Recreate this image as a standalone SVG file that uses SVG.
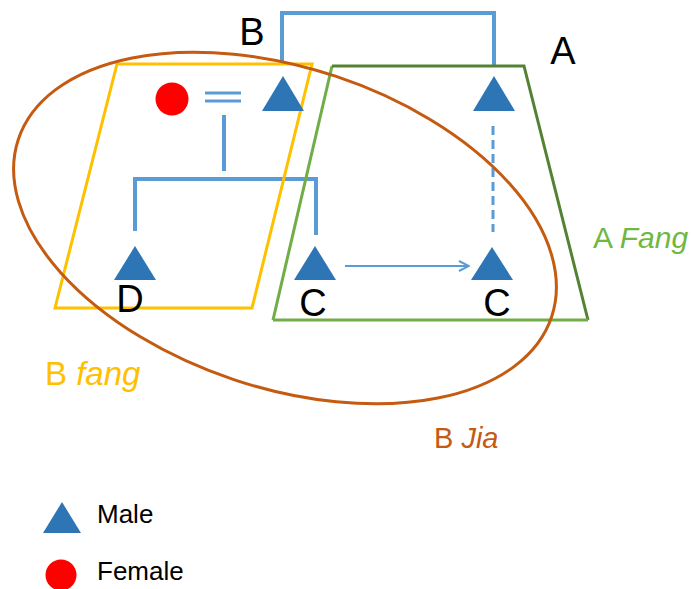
<svg xmlns="http://www.w3.org/2000/svg" width="691" height="589" viewBox="0 0 691 589">
<style>
.conn{fill:none;stroke:#5B9BD5;stroke-width:4}
.tri{fill:#2E75B6}
.lbl{font-family:"Liberation Sans",Arial,sans-serif;font-size:38px;fill:#000;text-anchor:middle}
.cap{font-family:"Liberation Sans",Arial,sans-serif}
.leg{font-family:"Liberation Sans",Arial,sans-serif;font-size:26px;fill:#000}
</style>
<defs>
<marker id="open" viewBox="0 0 12 12" refX="11" refY="6" markerWidth="12" markerHeight="12" markerUnits="userSpaceOnUse" orient="auto">
<path d="M1,1 L11,6 L1,11" fill="none" stroke="#5B9BD5" stroke-width="2"/>
</marker>
</defs>
<rect width="691" height="589" fill="#fff"/>
<g id="connectors">
<path class="conn" d="M282,62 V13 H494 V65"/>
<path class="conn" d="M205,93 H241 M205,101 H241" style="stroke-width:3"/>
<path class="conn" d="M224,115 V171"/>
<path class="conn" d="M135,231 V179 H316 V235"/>
<path class="conn" d="M493,126 V232" style="stroke-width:3;stroke-dasharray:9 5"/>
<path class="conn" d="M345,266 H469" style="stroke-width:2" marker-end="url(#open)"/>
</g>
<g id="bfang-region">
<polygon points="117,64 312,64 252,308 55,308" fill="none" stroke="#FFC000" stroke-width="3"/>
</g>
<g id="afang-region">
<path d="M273,320 L332,66" fill="none" stroke="#70AD47" stroke-width="3"/>
<path d="M332,66 H524 L588,320" fill="none" stroke="#548235" stroke-width="3"/>
<path d="M273,320 H588" fill="none" stroke="#70AD47" stroke-width="3"/>
</g>
<g id="bjia-region">
<ellipse cx="285" cy="228" rx="281" ry="160" transform="rotate(18.4 285 228)" fill="none" stroke="#C55A11" stroke-width="3"/>
</g>
<g id="node-female">
<circle cx="172" cy="99" r="16.5" fill="#FF0000"/>
</g>
<g id="node-B">
<polygon class="tri" points="283,76 304,111 262,111"/>
<text class="lbl" x="252" y="45">B</text>
</g>
<g id="node-A">
<polygon class="tri" points="494,76 515,111 473,111"/>
<text class="lbl" x="563" y="64">A</text>
</g>
<g id="node-D">
<polygon class="tri" points="135,246 156,280 114,280"/>
<text class="lbl" x="130" y="312">D</text>
</g>
<g id="node-C1">
<polygon class="tri" points="315,246 336,280 294,280"/>
<text class="lbl" x="313" y="316">C</text>
</g>
<g id="node-C2">
<polygon class="tri" points="492,247 513,280 471,280"/>
<text class="lbl" x="497" y="316">C</text>
</g>
<g id="labels">
<text class="cap" x="593" y="248" font-size="30" fill="#70B840">A <tspan font-style="italic">Fang</tspan></text>
<text class="cap" x="45" y="385" font-size="33" fill="#FFC000">B <tspan font-style="italic">fang</tspan></text>
<text class="cap" x="434" y="448" font-size="29" fill="#C55A11">B <tspan font-style="italic">Jia</tspan></text>
</g>
<g id="legend">
<polygon class="tri" points="62,502 81,533 43,533"/>
<text class="leg" x="97" y="523">Male</text>
<circle cx="61" cy="575" r="15.5" fill="#FF0000"/>
<text class="leg" x="97" y="580">Female</text>
</g>
</svg>
